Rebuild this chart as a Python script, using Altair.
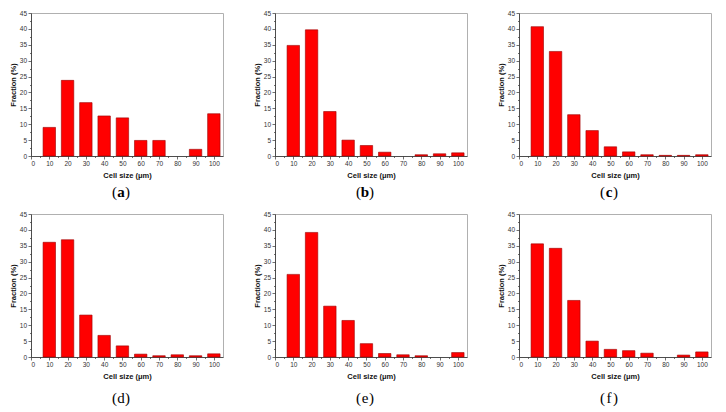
import altair as alt
import pandas as pd

sizes = [10, 20, 30, 40, 50, 60, 70, 80, 90, 100]
panel_a = [9.0, 23.8, 16.8, 12.6, 12.0, 4.9, 4.9, 0.0, 2.1, 13.3]
panel_b = [34.8, 39.7, 14.0, 5.0, 3.3, 1.2, 0.0, 0.4, 0.7, 1.0]
panel_c = [40.7, 32.9, 13.0, 8.0, 2.9, 1.3, 0.4, 0.2, 0.2, 0.4]
panel_d = [36.1, 36.9, 13.2, 6.8, 3.5, 0.9, 0.4, 0.7, 0.4, 1.0]
panel_e = [26.0, 39.2, 16.0, 11.5, 4.2, 1.1, 0.7, 0.4, 0.0, 1.4]
panel_f = [35.6, 34.2, 17.8, 5.0, 2.4, 2.0, 1.2, 0.0, 0.6, 1.6]
letters = ["a", "b", "c", "d", "e", "f"]
series = [panel_a, panel_b, panel_c, panel_d, panel_e, panel_f]

x_ticks = [v * 5 for v in range(0, 21)]          # 0..100 (labels every 10)
y_ticks = [v * 2.5 for v in range(0, 19)]        # 0..45 (labels every 5)

rows = []
for letter, vals in zip(letters, series):
    for s, v in zip(sizes, vals):
        rows.append({"panel": letter, "size": s, "fraction": v})
df = pd.DataFrame(rows)

W, H = 192, 143
LABEL_FONT = "Liberation Sans"
SERIF = "Liberation Serif"


def make_panel(letter, bold_letter, cy):
    base = alt.Chart(df).transform_filter(
        (alt.datum.panel == letter) & (alt.datum.fraction > 0)
    ).transform_calculate(
        x0="datum.size - 3.4", x1="datum.size + 3.4", base="0"
    )
    bars = base.mark_rect(
        color="#ff0000", stroke="#9a0000", strokeWidth=0.6
    ).encode(
        x=alt.X(
            "x0:Q",
            scale=alt.Scale(domain=[0, 105], nice=False, zero=True),
            axis=alt.Axis(
                title="Cell size (\u03bcm)",
                values=x_ticks,
                labelExpr="datum.value % 10 === 0 ? datum.label : ''",
                tickSize={"condition": {"test": "datum.value % 10 === 0", "value": 3}, "value": 1.5},
                grid=False,
            ),
        ),
        x2="x1:Q",
        y=alt.Y(
            "fraction:Q",
            scale=alt.Scale(domain=[0, 45], nice=False),
            axis=alt.Axis(
                title="Fraction (%)",
                values=y_ticks,
                labelExpr="datum.value % 5 === 0 ? datum.label : ''",
                tickSize={"condition": {"test": "datum.value % 5 === 0", "value": 3}, "value": 1.5},
                grid=False,
            ),
        ),
        y2="base:Q",
    )
    one = alt.Data(values=[{"k": 1}])
    cx = 90
    lp = alt.Chart(one).mark_text(
        text="(", font=SERIF, fontSize=15, align="right", baseline="alphabetic", color="#000"
    ).encode(x=alt.value(cx - 4), y=alt.value(cy))
    lt = alt.Chart(one).mark_text(
        text=letter, font=SERIF, fontSize=15, align="center", baseline="alphabetic",
        fontWeight="bold" if bold_letter else "normal", color="#000"
    ).encode(x=alt.value(cx), y=alt.value(cy))
    rp = alt.Chart(one).mark_text(
        text=")", font=SERIF, fontSize=15, align="left", baseline="alphabetic", color="#000"
    ).encode(x=alt.value(cx + 4), y=alt.value(cy))
    return alt.layer(bars, lp, lt, rp).properties(width=W, height=H)


top = alt.hconcat(
    make_panel("a", True, 184), make_panel("b", True, 184), make_panel("c", True, 184),
    spacing=52, bounds="flush",
)
bottom = alt.hconcat(
    make_panel("d", False, 189), make_panel("e", False, 189), make_panel("f", False, 189),
    spacing=52, bounds="flush",
)
chart = alt.vconcat(top, bottom, spacing=9).properties(
    padding={"left": 0, "top": 1, "right": 0, "bottom": 0}
).configure_view(
    stroke="#b0b0b0", strokeWidth=1
).configure_axis(
    labelFont=LABEL_FONT, labelFontSize=6.5, labelColor="#333",
    titleFont=LABEL_FONT, titleFontSize=7.5, titleFontWeight="bold", titleColor="#111",
    domainColor="#333", domainWidth=0.8, tickColor="#333", tickWidth=0.7,
    labelPadding=1.5,
).configure_axisX(
    titlePadding=4,
).configure_axisY(
    titlePadding=2,
)

chart.save("out.html", embed_options={"renderer": "svg", "actions": False})
